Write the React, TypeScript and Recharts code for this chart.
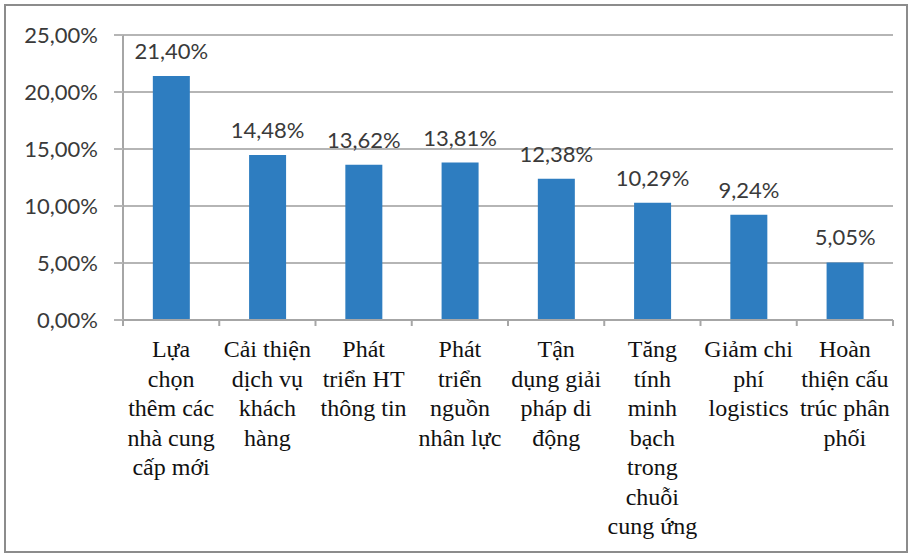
import { BarChart, Bar, XAxis, YAxis, CartesianGrid, LabelList } from 'recharts';

const categories = [
  'Lựa chọn thêm các nhà cung cấp mới',
  'Cải thiện dịch vụ khách hàng',
  'Phát triển HT thông tin',
  'Phát triển nguồn nhân lực',
  'Tận dụng giải pháp di động',
  'Tăng tính minh bạch trong chuỗi cung ứng',
  'Giảm chi phí logistics',
  'Hoàn thiện cấu trúc phân phối'
];

// how each category label wraps in the reference
const categoryLines = [
  ['Lựa', 'chọn', 'thêm các', 'nhà cung', 'cấp mới'],
  ['Cải thiện', 'dịch vụ', 'khách', 'hàng'],
  ['Phát', 'triển HT', 'thông tin'],
  ['Phát', 'triển', 'nguồn', 'nhân lực'],
  ['Tận', 'dụng giải', 'pháp di', 'động'],
  ['Tăng', 'tính', 'minh', 'bạch', 'trong', 'chuỗi', 'cung ứng'],
  ['Giảm chi', 'phí', 'logistics'],
  ['Hoàn', 'thiện cấu', 'trúc phân', 'phối']
];

const values = [21.4, 14.48, 13.62, 13.81, 12.38, 10.29, 9.24, 5.05];

const yTicks = [0, 5, 10, 15, 20, 25];

const data = categories.map((name, i) => ({ name, value: values[i], lines: categoryLines[i] }));

const pct = (v: number) => v.toFixed(2).replace('.', ',') + '%';

const CHART_W = 912;
const CHART_H = 554;
const MARGIN = { top: 35, right: 19, bottom: 8, left: 13 };
const Y_W = 110;
const PLOT_W = CHART_W - MARGIN.left - MARGIN.right - Y_W;
const BAND = PLOT_W / categories.length;

function CategoryTick(props: any) {
  const { x, y, payload, index } = props;
  const lines = categoryLines[payload.index ?? index] || [];
  return (
    <g>
      <line x1={x - BAND / 2} y1={y - 8} x2={x - BAND / 2} y2={y - 2} stroke="#a6a6a6" strokeWidth={2} />
      {index === categories.length - 1 && (
        <line x1={x + BAND / 2} y1={y - 8} x2={x + BAND / 2} y2={y - 2} stroke="#a6a6a6" strokeWidth={2} />
      )}
      <text
        x={x}
        y={y}
        textAnchor="middle"
        fill="#111"
        fontFamily="'Liberation Serif', 'Times New Roman', serif"
        fontSize={24}
      >
        {lines.map((l: string, i: number) => (
          <tspan key={i} x={x} dy={i === 0 ? 29 : 29.5}>
            {l}
          </tspan>
        ))}
      </text>
    </g>
  );
}

export default function App() {
  return (
    <div style={{ position: 'absolute', left: 0, top: 0, width: CHART_W, height: CHART_H, background: '#fff' }}>
      <div
        style={{
          position: 'absolute',
          left: 4,
          top: 4,
          width: 904,
          height: 549,
          border: '2px solid #8c8c8c',
          boxSizing: 'border-box'
        }}
      />
      <BarChart
        width={CHART_W}
        height={CHART_H}
        data={data}
        margin={MARGIN}
        barCategoryGap="31%"
      >
        <CartesianGrid vertical={false} stroke="#b5b5b5" strokeWidth={2} />
        <XAxis
          dataKey="name"
          interval={0}
          height={226}
          axisLine={{ stroke: '#a6a6a6', strokeWidth: 2 }}
          tickLine={false}
          tick={<CategoryTick />}
        />
        <YAxis
          width={Y_W}
          domain={[0, 25]}
          ticks={yTicks}
          tickFormatter={pct}
          axisLine={{ stroke: '#a6a6a6', strokeWidth: 2 }}
          tickLine={{ stroke: '#b5b5b5', strokeWidth: 2 }}
          tickSize={9}
          tickMargin={16}
          tick={{ fill: '#3a3a3a', fontSize: 22, fontFamily: 'Lato, sans-serif' }}
        />
        <Bar dataKey="value" fill="#2e7dc0" isAnimationActive={false}>
          <LabelList
            dataKey="value"
            position="top"
            offset={17}
            formatter={(v: any) => pct(Number(v))}
            fill="#3a3a3a"
            fontSize={22}
            fontFamily="Lato, sans-serif"
          />
        </Bar>
      </BarChart>
    </div>
  );
}
